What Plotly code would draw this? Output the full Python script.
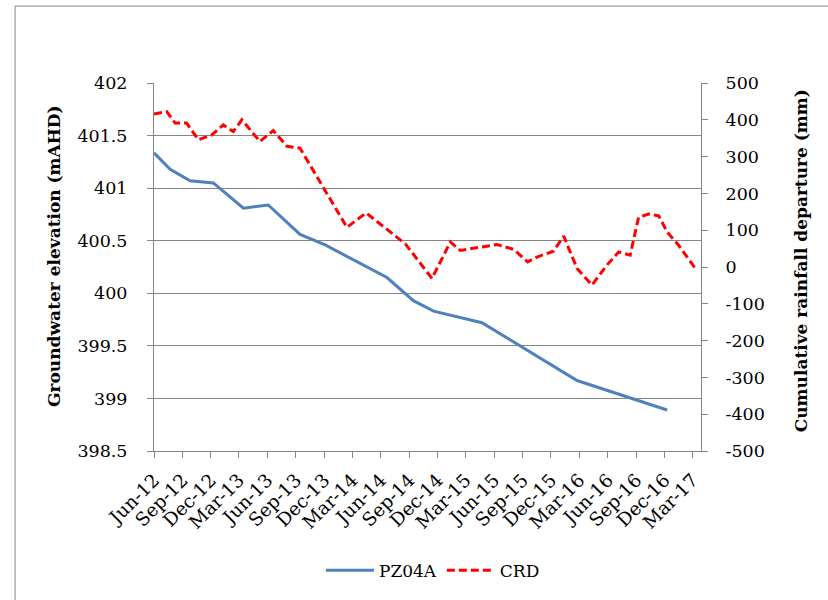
import plotly.graph_objects as go

# ---- data ----
pz_dates = ["2012-06-01", "2012-07-23", "2012-09-25", "2012-12-09", "2013-03-16",
            "2013-06-04", "2013-09-14", "2013-12-04", "2014-06-21", "2014-09-14",
            "2014-11-18", "2015-04-23", "2016-02-23", "2016-12-09"]
pz_values = [401.335, 401.18, 401.07, 401.05, 400.81,
             400.84, 400.56, 400.46, 400.15, 399.93,
             399.83, 399.72, 399.17, 398.89]

crd_dates = ["2012-06-01", "2012-07-12", "2012-08-08", "2012-09-14", "2012-10-22",
             "2012-12-04", "2013-01-10", "2013-02-11", "2013-03-11", "2013-05-08",
             "2013-06-20", "2013-08-03", "2013-09-14", "2013-11-28", "2014-02-12",
             "2014-04-15", "2014-07-23", "2014-08-19", "2014-11-13", "2015-01-11",
             "2015-02-12", "2015-04-28", "2015-06-10", "2015-08-03", "2015-09-17",
             "2015-10-17", "2015-12-09", "2016-01-11", "2016-02-23", "2016-04-11",
             "2016-05-29", "2016-07-06", "2016-08-12", "2016-09-08", "2016-10-10",
             "2016-11-12", "2016-12-09", "2017-01-15", "2017-03-10"]
crd_values = [416, 422, 391, 391, 346,
              359, 386, 368, 400, 341,
              371, 328, 323, 216, 108,
              147, 81, 63, -31, 68,
              45, 54, 61, 48, 14,
              27, 43, 84, -4, -49,
              5, 41, 32, 135, 144,
              139, 95, 59, -4]

left_tickvals = [398.5, 399, 399.5, 400, 400.5, 401, 401.5, 402]
left_ticktext = ["398.5", "399", "399.5", "400", "400.5", "401", "401.5", "402"]
right_tickvals = [-500, -400, -300, -200, -100, 0, 100, 200, 300, 400, 500]
right_ticktext = ["-500", "-400", "-300", "-200", "-100", "0", "100", "200", "300", "400", "500"]

x_range = ["2012-06-01", "2017-03-28"]
x_tick0 = "2012-06-01"

series_names = ["PZ04A", "CRD"]
left_title = "Groundwater elevation (mAHD)"
right_title = "Cumulative rainfall departure (mm)"

# ---- figure ----
FONT = "DejaVu Serif"
GRID = "#868686"

fig = go.Figure()
fig.add_trace(go.Scatter(x=pz_dates, y=pz_values, name=series_names[0], mode="lines",
                         line=dict(color="#4F81BD", width=3), yaxis="y"))
fig.add_trace(go.Scatter(x=crd_dates, y=crd_values, name=series_names[1], mode="lines",
                         line=dict(color="#FF0000", width=3, dash="8px,4px"), yaxis="y2"))

fig.update_layout(
    width=828, height=600,
    margin=dict(l=154, r=127, t=83, b=146),
    paper_bgcolor="white", plot_bgcolor="white",
    font=dict(family=FONT, size=17, color="#000000"),
    showlegend=True,
    legend=dict(orientation="h", x=0.51, xanchor="center", y=-0.325, yanchor="middle",
                font=dict(family=FONT, size=17), bgcolor="rgba(0,0,0,0)",
                itemwidth=48),
    xaxis=dict(type="date", range=x_range, tick0=x_tick0, dtick="M3",
               tickformat="%b-%y", tickangle=-45, showgrid=False,
               showline=True, linecolor=GRID, linewidth=1,
               ticks="outside", ticklen=6, tickcolor=GRID, ticklabelstandoff=4,
               tickfont=dict(family=FONT, size=18.5), zeroline=False),
    yaxis=dict(range=[398.5, 402], tickvals=left_tickvals, ticktext=left_ticktext,
               showgrid=True, gridcolor=GRID, gridwidth=1,
               showline=True, linecolor=GRID, linewidth=1,
               ticks="outside", ticklen=6, tickcolor=GRID, ticklabelstandoff=16,
               tickfont=dict(family=FONT, size=17.5), zeroline=False),
    yaxis2=dict(range=[-500, 500], tickvals=right_tickvals, ticktext=right_ticktext,
                overlaying="y", side="right", showgrid=False,
                showline=True, linecolor=GRID, linewidth=1,
                ticks="outside", ticklen=6, tickcolor=GRID, ticklabelstandoff=14,
                tickfont=dict(family=FONT, size=17.5), zeroline=False),
    annotations=[
        dict(text="<b>" + left_title + "</b>", xref="paper", yref="paper",
             x=-0.184, y=0.531, textangle=-90, showarrow=False,
             xanchor="center", yanchor="middle", font=dict(family=FONT, size=17)),
        dict(text="<b>" + right_title + "</b>", xref="paper", yref="paper",
             x=1.182, y=0.517, textangle=-90, showarrow=False,
             xanchor="center", yanchor="middle", font=dict(family=FONT, size=17)),
    ],
    shapes=[dict(type="rect", xref="paper", yref="paper",
                 x0=-0.254, x1=2.0, y0=-2.0, y1=1.209,
                 line=dict(color="#868686", width=1), fillcolor="rgba(0,0,0,0)")],
)

fig.write_html("out.html", config={"displayModeBar": False},
               post_script="document.body.style.margin='0px';document.body.style.overflow='hidden';")
